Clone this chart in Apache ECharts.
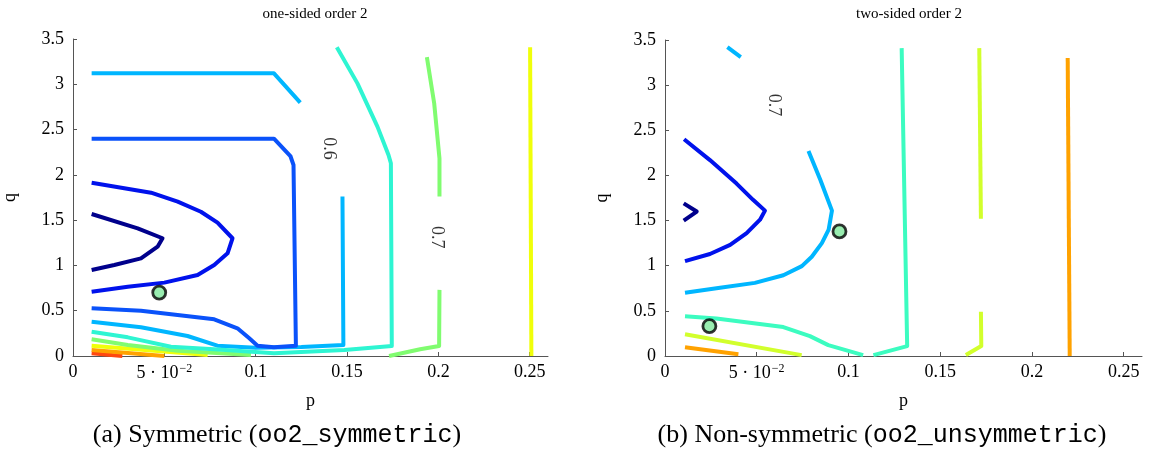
<!DOCTYPE html>
<html><head><meta charset="utf-8">
<script src="https://cdn.jsdelivr.net/npm/echarts@6/dist/echarts.min.js"></script>
<style>html,body{margin:0;padding:0;background:#fff}#c{width:1151px;height:457px}</style>
</head><body><div id="c"></div>
<script>
// ---- tick values ----
const xTicks = [0, 0.05, 0.1, 0.15, 0.2, 0.25];
const yTicks = [0, 0.5, 1, 1.5, 2, 2.5, 3, 3.5];

// ---- Panel A: one-sided order 2 (contour polylines [p, q]) ----
const A_navy = [[0.0102,1.568],[0.0354,1.41],[0.049,1.30],[0.0463,1.207],[0.0372,1.078],[0.0226,1.005],[0.0102,0.95]];
const A_blue = [[0.0102,1.913],[0.0427,1.803],[0.0573,1.704],[0.070,1.593],[0.0791,1.472],[0.0873,1.30],[0.0846,1.134],[0.0773,1.005],[0.0682,0.894],[0.050,0.81],[0.030,0.765],[0.0102,0.71]];
const A_mid = [[0.0102,2.40],[0.110,2.40],[0.119,2.208],[0.1207,2.109],[0.122,0.114],[0.110,0.096],[0.101,0.114],[0.0965,0.195],[0.090,0.306],[0.0773,0.405],[0.0372,0.50],[0.0102,0.527]];
const A_light1 = [[0.0102,3.121],[0.110,3.121],[0.1244,2.797]];
const A_light2 = [[0.0102,0.379],[0.0372,0.317],[0.0627,0.221],[0.079,0.114],[0.100,0.09],[0.125,0.10],[0.148,0.121],[0.1475,1.76]];
const A_teal = [[0.0102,0.268],[0.030,0.206],[0.0536,0.103],[0.0773,0.074],[0.110,0.03],[0.1485,0.066],[0.1745,0.11],[0.174,2.128],[0.1727,2.22],[0.1667,2.53],[0.1557,3.01],[0.1444,3.41]];
const A_green1 = [[0.0102,0.184],[0.030,0.121],[0.0573,0.059],[0.0974,0.011]];
const A_green2 = [[0.173,0.0],[0.19,0.074],[0.2004,0.11],[0.2006,0.73]];
const A_green3 = [[0.2006,1.76],[0.2006,2.18],[0.1977,2.79],[0.1937,3.30]];
const A_yellow1 = [[0.0102,0.114],[0.0737,0.011]];
const A_yellow2 = [[0.2502,3.41],[0.2509,0.0]];
const A_orange = [[0.0102,0.066],[0.05,0.0]];
const A_red = [[0.0102,0.03],[0.027,0.0]];
const A_points = [[0.0472,0.70]];
const A_labels = [[0.140,2.29,'0.6'],[0.199,1.31,'0.7']];

// ---- Panel B: two-sided order 2 ----
const B_navy = [[0.0102,1.69],[0.0173,1.60],[0.0102,1.50]];
const B_blue = [[0.0104,2.40],[0.0245,2.17],[0.039,1.91],[0.048,1.73],[0.0545,1.61],[0.0518,1.51],[0.0445,1.36],[0.0355,1.23],[0.0245,1.13],[0.0109,1.05]];
const B_light1 = [[0.034,3.42],[0.0413,3.31]];
const B_light2 = [[0.0782,2.27],[0.0847,1.95],[0.091,1.61],[0.0892,1.40],[0.0855,1.25],[0.080,1.10],[0.0746,0.995],[0.0645,0.895],[0.049,0.81],[0.030,0.755],[0.0109,0.70]];
const B_teal1 = [[0.0109,0.44],[0.028,0.415],[0.0645,0.32],[0.079,0.22],[0.089,0.12],[0.108,0.01]];
const B_teal2 = [[0.1136,0.01],[0.132,0.11],[0.129,3.41]];
const B_lime1 = [[0.0109,0.24],[0.0745,0.01]];
const B_lime2 = [[0.164,0.01],[0.1724,0.11],[0.1722,0.49]];
const B_lime3 = [[0.1722,1.52],[0.1713,3.41]];
const B_orange1 = [[0.0109,0.096],[0.040,0.019]];
const B_orange2 = [[0.2195,3.30],[0.2206,0.0]];
const B_points = [[0.0951,1.38],[0.0242,0.33]];
const B_labels = [[0.059,2.78,'0.7']];

// ---- styles ----
const C = {navy:'#00008c', blue:'#0012ec', mid:'#0a52fa', light:'#00b6ff', teal:'#2ef5d2', tealB:'#3cfcc0',
  green:'#80fc70', yellow:'#f0ff0a', lime:'#d2ff2c', orange:'#ffa200', red:'#ff4810'};
const SERIF = '"Liberation Serif","DejaVu Serif",serif';
const MONO = '"Liberation Mono","DejaVu Sans Mono",monospace';

const panelA = [
  [A_red,C.red],[A_orange,C.orange],[A_yellow1,C.yellow],[A_yellow2,C.yellow],
  [A_green1,C.green],[A_green2,C.green],[A_green3,C.green],
  [A_light2,C.light],[A_teal,C.teal],[A_light1,C.light],
  [A_mid,C.mid],[A_blue,C.blue],[A_navy,C.navy]
];
const panelB = [
  [B_orange1,C.orange],[B_orange2,C.orange],[B_lime1,C.lime],[B_lime2,C.lime],[B_lime3,C.lime],
  [B_teal1,C.tealB],[B_teal2,C.tealB],[B_light1,C.light],[B_light2,C.light],
  [B_blue,C.blue],[B_navy,C.navy]
];

function lineSeries(list, idx){
  return list.map(([d,col]) => ({
    type:'line', xAxisIndex:idx, yAxisIndex:idx, data:d, showSymbol:false, symbol:'none',
    silent:true, animation:false, z:2,
    lineStyle:{color:col, width:4, cap:'butt', join:'round'}
  }));
}
function pointSeries(d, idx){
  return {type:'scatter', xAxisIndex:idx, yAxisIndex:idx, data:d, symbolSize:13, z:5, animation:false,
    itemStyle:{color:'#80e89c', borderColor:'#000', borderWidth:2.8}};
}
function labelSeries(d, idx){
  return {type:'scatter', xAxisIndex:idx, yAxisIndex:idx, data:d.map(r=>({value:[r[0],r[1]], name:r[2]})),
    symbolSize:0, z:6, animation:false,
    label:{show:true, position:'inside', formatter:p=>p.name, rotate:-90, color:'#000',
      fontFamily:SERIF, fontSize:18}};
}
function fmtX(v){
  if (Math.abs(v-0.05)<1e-9) return '{t|5 · 10}{s|−2}';
  return '{t|'+String(+v.toFixed(2))+'}';
}
function xAxis(idx){
  return {gridIndex:idx, type:'value', min:0, max:0.26, name:'p', nameLocation:'middle', nameGap:36,
    nameTextStyle:{fontFamily:SERIF, fontSize:18, color:'#000'},
    axisLine:{lineStyle:{color:'#555', width:1}},
    axisTick:{inside:true, length:4, customValues:xTicks, lineStyle:{color:'#555'}},
    axisLabel:{customValues:xTicks, formatter:fmtX, margin:7,
      rich:{t:{fontFamily:SERIF, fontSize:18, color:'#000'}, s:{fontFamily:SERIF, fontSize:12, color:'#000', padding:[0,0,9,1]}}},
    splitLine:{show:false}};
}
function yAxis(idx){
  return {gridIndex:idx, type:'value', min:0, max:3.5, interval:0.5, name:'q', nameLocation:'middle', nameGap:54,
    nameRotate:90, nameTextStyle:{fontFamily:SERIF, fontSize:18, color:'#000'},
    axisLine:{show:true, lineStyle:{color:'#555', width:1}},
    axisTick:{show:true, inside:true, length:4, lineStyle:{color:'#555'}},
    axisLabel:{fontFamily:SERIF, fontSize:18, color:'#000', margin:9, formatter:v=>String(v)},
    splitLine:{show:false}};
}
function caption(txt, x){
  return {text:txt, left:x, top:417, textAlign:'center',
    textStyle:{fontFamily:SERIF, fontSize:26, fontWeight:'normal', color:'#000',
      rich:{m:{fontFamily:MONO, fontSize:25, color:'#000'}}}};
}

const chart = echarts.init(document.getElementById('c'), null, {renderer:'canvas'});
chart.setOption({
  backgroundColor:'#fff',
  animation:false,
  title:[
    {text:'one-sided order 2', left:310, top:2, textAlign:'center', textStyle:{fontFamily:SERIF, fontSize:15, fontWeight:'normal', color:'#000'}},
    {text:'two-sided order 2', left:904, top:2, textAlign:'center', textStyle:{fontFamily:SERIF, fontSize:15, fontWeight:'normal', color:'#000'}},
    caption('(a) Symmetric ({m|oo2_symmetric})', 272),
    caption('(b) Non-symmetric ({m|oo2_unsymmetric})', 877)
  ],
  grid:[
    {left:72, top:39, width:476, height:317},
    {left:665, top:40, width:477, height:316}
  ],
  xAxis:[xAxis(0), xAxis(1)],
  yAxis:[yAxis(0), yAxis(1)],
  series:[].concat(
    lineSeries(panelA,0), [pointSeries(A_points,0), labelSeries(A_labels,0)],
    lineSeries(panelB,1), [pointSeries(B_points,1), labelSeries(B_labels,1)]
  )
});
</script></body></html>
